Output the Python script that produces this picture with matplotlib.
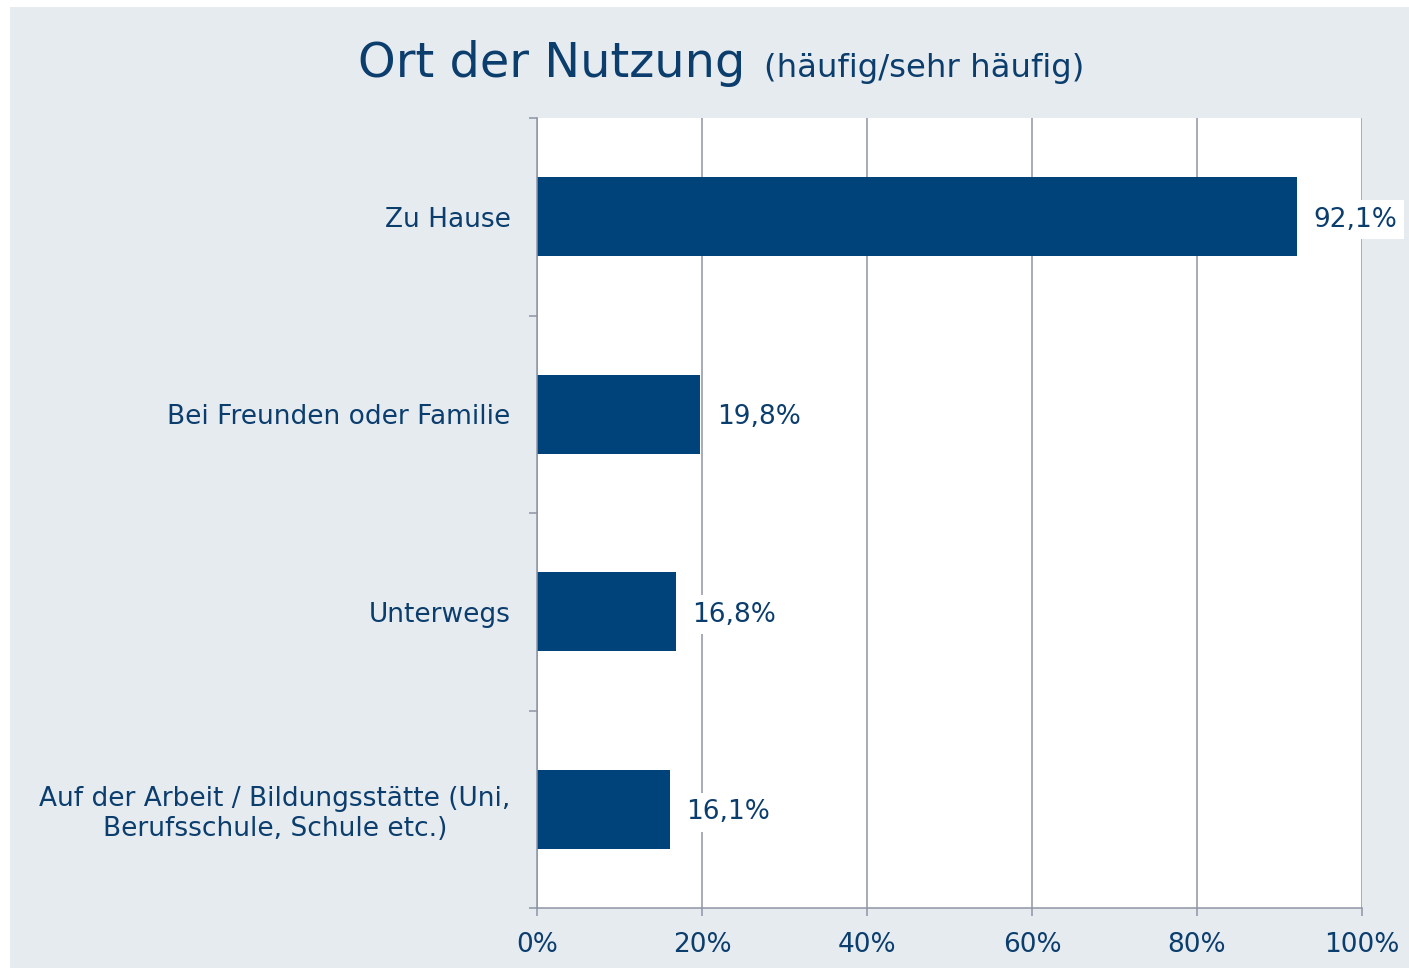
import matplotlib
matplotlib.use('Agg')
import matplotlib.pyplot as plt
import numpy as np

# Daten
orte = ['Zu Hause',
        'Bei Freunden oder Familie',
        'Unterwegs',
        'Auf der Arbeit / Bildungsstätte (Uni,\nBerufsschule, Schule etc.)']
anteile = [92.1, 19.8, 16.8, 16.1]
xticks = [0, 20, 40, 60, 80, 100]

blau = '#00427A'
textblau = '#0B3D6D'
grau = '#8F94A6'
panel = '#E6EBF0'

plt.rcParams['font.family'] = ['DejaVu Sans']

fig = plt.figure(figsize=(14.09, 9.68), dpi=100)
fig.patch.set_facecolor('white')
# grauer Hintergrund
fig.patches.append(plt.Rectangle((10 / 1409, 0), 1 - 10 / 1409, 961 / 968,
                                 transform=fig.transFigure, facecolor=panel,
                                 edgecolor='none', zorder=-10))

ax = fig.add_axes([537 / 1409, 60 / 968, 825 / 1409, 790 / 968])
ax.set_facecolor('white')

y = np.arange(len(orte))
bars = ax.barh(y, anteile, height=0.4, color=blau, zorder=3)

ax.set_xlim(0, 100)
ax.set_ylim(len(orte) - 0.5, -0.5)

ax.set_xticks(xticks)
ax.set_xticklabels(['%d%%' % v for v in xticks])
ax.set_yticks(y)
ax.set_yticklabels(orte, multialignment='center')
ax.set_yticks(np.arange(len(orte) + 1) - 0.5, minor=True)

ax.tick_params(axis='y', which='major', length=0, pad=19, labelsize=19, labelcolor=textblau)
ax.tick_params(axis='y', which='minor', length=6, width=1.1, color=grau, direction='out')
ax.tick_params(axis='x', length=6, width=1.1, color=grau, pad=11, labelsize=19, labelcolor=textblau)

ax.grid(axis='x', color=grau, linewidth=1.1, zorder=1)
ax.set_axisbelow(True)

for side in ['top', 'right']:
    ax.spines[side].set_visible(False)
for side in ['left', 'bottom']:
    ax.spines[side].set_color(grau)
    ax.spines[side].set_linewidth(1.1)
    ax.spines[side].set_zorder(4)

# Datenbeschriftungen
for rect, v in zip(bars, anteile):
    ax.annotate(('%.1f%%' % v).replace('.', ','),
                xy=(rect.get_width(), rect.get_y() + rect.get_height() / 2),
                xytext=(12, 0), textcoords='offset points',
                ha='left', va='center_baseline', fontsize=19, color=textblau,
                bbox=dict(boxstyle='square,pad=0.25', facecolor='white', edgecolor='none'),
                zorder=5, annotation_clip=False)

# Titel
fig.text(745 / 1409, 891 / 968, 'Ort der Nutzung', ha='right', va='baseline',
         fontsize=34.5, color=textblau)
fig.text(764 / 1409, 891 / 968, '(häufig/sehr häufig)', ha='left', va='baseline',
         fontsize=23.3, color=textblau)

plt.savefig('out.png', dpi=100)
